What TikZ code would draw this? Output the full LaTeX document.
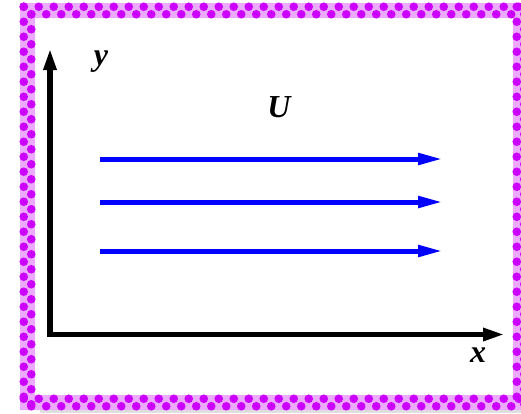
\documentclass[tikz,border=0pt]{standalone}
\usepackage{fontspec}
\setmainfont{Liberation Serif}
\usepackage{tikz}
\usetikzlibrary{arrows.meta}

\definecolor{dotmag}{RGB}{204,0,255}
\definecolor{dotlite}{RGB}{236,170,255}

\begin{document}
\begin{tikzpicture}[x=1pt,y=-1pt,
   axis/.style={line width=5.5pt,-{Triangle[length=22pt,width=12pt]}},
   flow/.style={blue,line width=5pt,-{Triangle[length=25pt,width=11pt]}},
   lbl/.style={font=\fontsize{32}{32}\selectfont\bfseries\itshape,inner sep=0pt},
   dot/.style={fill=dotmag,draw=none}]
  \useasboundingbox (0,0) rectangle (521,413);
  % frame
  \fill[gray!25] (40,409) rectangle (521,413);
  \fill[dotlite,even odd rule] (20,3) rectangle (528,410) (35,18) rectangle (513,395);
  \foreach \i in {0,2,...,68}{
    \fill[dot] ({23.75+7.5*\i},6.75) circle (4.3);
    \fill[dot] ({31.25+7.5*\i},14.25) circle (4.3);
    \fill[dot] ({23.75+7.5*\i},398.75) circle (4.3);
    \fill[dot] ({31.25+7.5*\i},406.25) circle (4.3);
  }
  \foreach \j in {0,2,...,52}{
    \fill[dot] (23.75,{6.75+7.5*\j}) circle (4.3);
    \fill[dot] (31.25,{14.25+7.5*\j}) circle (4.3);
    \fill[dot] (516.75,{6.75+7.5*\j}) circle (4.3);
    \fill[dot] (524.25,{14.25+7.5*\j}) circle (4.3);
  }
  % axes
  \coordinate (o) at (50,334.5);
  \coordinate (ytip) at (50,48);
  \coordinate (xtip) at (505,334.5);
  \draw[axis] ([yshift=2.75pt]o) -- (ytip);
  \draw[axis] ([xshift=-2.75pt]o) -- (xtip);
  \node[lbl] (ylab) at (101,62) {y};
  \node[lbl] (xlab) at (478,355) {x};
  % uniform flow
  \node[lbl] (U) at (279,107) {U};
  \foreach \k/\yy in {1/159,2/202,3/251}{
    \coordinate (s\k) at (100,\yy);
    \coordinate (e\k) at (443,\yy);
    \draw[flow] (s\k) -- (e\k);
  }
\end{tikzpicture}
\end{document}
